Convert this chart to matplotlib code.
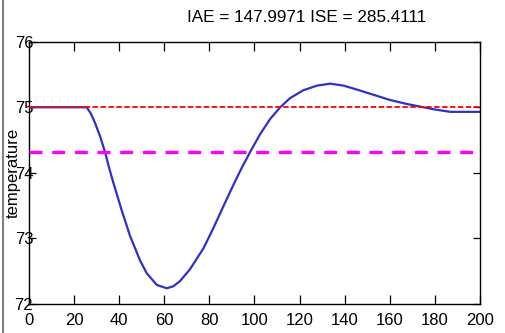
import matplotlib
matplotlib.use("Agg")
import matplotlib.pyplot as plt
from matplotlib.lines import Line2D

plt.rcParams['font.family'] = ['Liberation Sans', 'DejaVu Sans']

# process response
time = [0, 25.6, 27.5, 29.3, 31.5, 33.7, 35.5, 37.4, 41.1, 44.8, 49.3, 52.2,
        56.7, 61.1, 64, 67, 71.4, 77.4, 81.8, 86.2, 90.7, 94.4, 98.1, 102.5,
        106.9, 111.4, 115.8, 121.7, 127.7, 133.6, 139.5, 145.4, 152.8, 160.2,
        167.6, 173.5, 179.4, 186.8, 200]
temperature = [75, 75, 74.9, 74.76, 74.56, 74.32, 74.08, 73.85, 73.43, 73.04,
               72.66, 72.47, 72.29, 72.24, 72.27, 72.35, 72.53, 72.85, 73.16,
               73.49, 73.82, 74.08, 74.32, 74.59, 74.82, 75.0, 75.14, 75.26,
               75.33, 75.36, 75.33, 75.27, 75.19, 75.11, 75.05, 75.01, 74.97,
               74.93, 74.93]
setpoint = 75.0
limit = 74.32
x_range = [0, 200]
x_ticks = [0, 20, 40, 60, 80, 100, 120, 140, 160, 180, 200]
y_ticks = [72, 73, 74, 75, 76]
title = "IAE = 147.9971 ISE = 285.4111"

fig = plt.figure(figsize=(5.06, 3.33), dpi=100)
ax = fig.add_axes([0.0573, 0.0871, 0.8913, 0.7877])

ax.plot(time, temperature, color='#3030c8', lw=1.6, zorder=2)
ax.plot(x_range, [setpoint, setpoint], color='red', lw=1.3, dashes=(3, 1.4), zorder=3)
ax.plot(x_range, [limit, limit], color='#ff00ff', lw=2.4, dashes=(3.9, 2.9), zorder=3)

ax.set_xlim(0, 200)
ax.set_ylim(72, 76)
ax.set_xticks(x_ticks)
ax.set_yticks(y_ticks)
ax.tick_params(axis='x', direction='in', top=True, length=6.5, width=0.9,
               labelsize=12, pad=6.5)
ax.tick_params(axis='y', direction='in', right=True, length=5, width=0.9,
               labelsize=12, pad=-3)
for s in ax.spines.values():
    s.set_linewidth(1.0)

ax.set_ylabel('temperature', fontsize=12)
ax.yaxis.set_label_coords(-0.035, 0.5)
ax.yaxis.label.set_verticalalignment('center')

fig.text(0.6057, 0.947, title, ha='center', va='center', fontsize=12.3)

# grey frame edge at the left of the figure
fig.add_artist(Line2D([0.005, 0.005], [0, 1], color='#808080', lw=1.5,
                      transform=fig.transFigure))

fig.savefig('out.png', dpi=100)
